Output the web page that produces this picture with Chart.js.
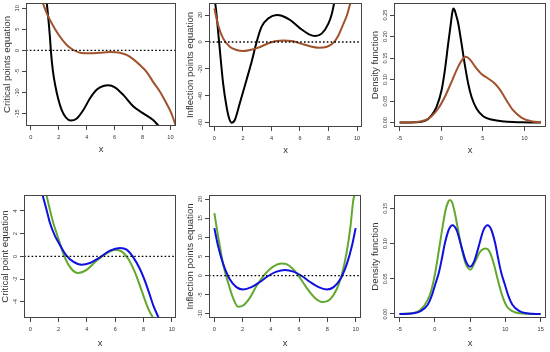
<!DOCTYPE html>
<html><head><meta charset="utf-8">
<script src="https://cdn.jsdelivr.net/npm/chart.js@4.4.0/dist/chart.umd.min.js"></script>
<style>
html,body{margin:0;padding:0;background:#fff;width:550px;height:352px;overflow:hidden}
canvas{position:absolute}
</style></head><body>
<canvas id="p1" width="183" height="176" style="left:0;top:0"></canvas>
<canvas id="p2" width="183" height="176" style="left:183px;top:0"></canvas>
<canvas id="p3" width="184" height="176" style="left:366px;top:0"></canvas>
<canvas id="p4" width="183" height="176" style="left:0;top:176px"></canvas>
<canvas id="p5" width="183" height="176" style="left:183px;top:176px"></canvas>
<canvas id="p6" width="184" height="176" style="left:366px;top:176px"></canvas>
<script>
// ---------- DATA ----------
// Panel 1: critical points equation
const p1BlackX = [1.13,1.26,1.38,1.43,1.57,1.74,1.98,2.21,2.52,2.86,3.29,3.76,4.24,4.71,5.19,5.55,6.02,6.62,7.33,8.05,8.76,9.22];
const p1BlackY = [11.6,7.2,2.5,0,-4.7,-8.25,-11.8,-14.2,-16.0,-16.7,-16.2,-14.2,-11.4,-9.4,-8.5,-8.33,-8.8,-10.6,-13.3,-15.0,-16.6,-18.2];
const p1BrownX = [0.84,1.14,1.5,2.0,2.57,3.05,3.52,4.24,4.95,5.67,6.38,6.86,7.33,7.81,8.29,8.76,9.24,9.71,10.07,10.4];
const p1BrownY = [11.4,8.8,6.4,3.65,1.27,0.08,-0.56,-0.71,-0.56,-0.4,-0.56,-1.1,-2.1,-3.5,-5.1,-7.5,-9.8,-12.6,-15.0,-18.1];
// Panel 2: inflection points equation
const p2BlackX = [0.05,0.14,0.26,0.38,0.61,0.85,1.03,1.2,1.43,1.78,2.25,2.61,2.96,3.31,3.78,4.37,4.72,5.31,6.01,6.6,7.07,7.54,8.0,8.24,8.41];
const p2BlackY = [29.5,21.2,7.7,-5.9,-30.6,-47.9,-56.5,-59.8,-57.8,-45.4,-28.1,-14.6,0,11.4,17.5,20.0,19.5,16.3,10.1,5.9,4.4,6.4,13.8,21.2,29.5];
const p2BrownX = [0,0.26,0.61,1.08,1.55,2.02,2.49,3.08,3.66,4.25,4.84,5.42,6.01,6.71,7.3,7.89,8.36,8.71,9.06,9.3,9.55];
const p2BrownY = [24.9,12.6,2.7,-3.5,-5.9,-6.7,-5.9,-4.2,-1.5,0.5,1.2,0.7,-1.0,-3.2,-4.2,-3.5,-0.5,5.2,13.8,20.0,29.5];
// Panel 3: density functions
const p3BlackX = [-5,-3.16,-1.96,-1.16,-0.56,0.04,0.44,0.84,1.16,1.32,1.46,1.6,1.76,2.04,2.44,2.84,3.24,3.64,4.24,5.04,6.04,7.64,9.64,12];
const p3BlackY = [0,0.0008,0.0039,0.017,0.0365,0.075,0.122,0.184,0.231,0.255,0.265,0.262,0.252,0.231,0.184,0.134,0.091,0.06,0.0326,0.0148,0.007,0.0023,0.0008,0];
const p3BrownX = [-5,-3.16,-1.96,-1.16,-0.36,0.44,1.24,2.04,2.64,2.96,3.44,4.04,4.84,5.64,6.44,7.04,7.84,8.64,9.64,10.84,12];
const p3BrownY = [0,0.0008,0.0054,0.0148,0.0326,0.06,0.0947,0.13,0.149,0.153,0.147,0.131,0.113,0.1025,0.091,0.077,0.052,0.0287,0.0116,0.003,0.0005];
// Panel 4: critical point equation
const p4BlueX = [0.84,1.13,1.37,1.73,1.99,2.32,2.55,3.03,3.62,4.21,4.92,5.63,6.34,6.81,7.28,7.75,8.23,8.7,9.1];
const p4BlueY = [5.5,4.18,3.0,1.82,1.24,0.5,0.06,-0.47,-0.74,-0.59,-0.09,0.5,0.74,0.59,-0.09,-1.12,-2.6,-4.35,-5.5];
const p4GreenX = [1.12,1.37,1.61,1.99,2.43,2.91,3.38,3.97,4.68,5.39,5.98,6.45,6.93,7.4,7.87,8.35,8.72];
const p4GreenY = [5.5,4.18,3.0,1.53,-0.09,-1.12,-1.47,-1.2,-0.38,0.26,0.59,0.44,-0.24,-1.41,-3.03,-4.65,-5.5];
// Panel 5: inflection points equation
const p5BlueX = [0,0.26,0.61,1.09,1.56,2.03,2.62,3.22,3.81,4.4,5.0,5.6,6.19,6.78,7.38,7.97,8.44,8.91,9.39,9.74,10];
const p5BlueY = [12.4,7.8,3.2,-0.96,-3.0,-3.6,-3.0,-1.66,-0.09,1.05,1.48,1.05,-0.09,-1.66,-3.0,-3.6,-3.0,-0.96,3.2,7.8,12.4];
const p5GreenX = [0,0.26,0.61,0.97,1.32,1.68,2.03,2.51,2.98,3.57,4.16,4.75,5.11,5.58,6.05,6.52,7.12,7.71,8.18,8.65,9.0,9.36,9.64,9.83,9.95];
const p5GreenY = [16.3,10.4,3.2,-1.8,-5.8,-8.1,-7.8,-5.8,-2.7,0.35,2.36,3.2,3.0,1.66,-0.52,-3.1,-5.8,-6.9,-6.2,-3.6,-0.1,6.0,13.0,19.6,21.5];
// Panel 6: density functions
const p6BlueX = [-5,-3,-2,-1,-0.46,0.1,0.58,1.0,1.43,2.0,2.52,3.1,3.8,4.4,5.0,5.6,6.2,6.9,7.48,8.0,8.57,9.0,9.42,9.9,10.46,11,12,13,15];
const p6BlueY = [0,0.001,0.004,0.013,0.025,0.043,0.0586,0.078,0.1,0.12,0.126,0.119,0.095,0.075,0.067,0.075,0.095,0.119,0.126,0.12,0.1,0.078,0.0586,0.043,0.025,0.013,0.004,0.001,0];
const p6GreenX = [-5,-3,-2,-1,-0.5,0,0.5,1.0,1.5,1.85,2.14,2.45,2.8,3.3,3.8,4.4,5.07,5.7,6.4,6.85,7.2,7.6,8.0,8.4,9.0,9.6,10.2,11,12,15];
const p6GreenY = [0,0.0015,0.006,0.02,0.033,0.055,0.085,0.117,0.146,0.158,0.162,0.159,0.146,0.12,0.094,0.071,0.063,0.074,0.088,0.092,0.093,0.091,0.083,0.07,0.046,0.025,0.011,0.004,0.001,0];

// Tick values and labels
const xTicks010 = [0,2,4,6,8,10];
const p3XTicks = [-5,0,5,10];
const p6XTicks = [-5,0,5,10,15];
const p1YTicks = [-15,-10,-5,0,5,10];
const p2YTicks = [-60,-40,-20,0,20];
const p3YTicks = [0,0.05,0.10,0.15,0.20,0.25];
const p3YLabels = ['0.00','0.05','0.10','0.15','0.20','0.25'];
const p4YTicks = [-4,-2,0,2,4];
const p5YTicks = [-10,-5,0,5,10,15,20];
const p6YTicks = [0,0.05,0.10,0.15];
const p6YLabels = ['0.00','0.05','0.10','0.15'];

// ---------- DRAWING ----------
const FONT = '"Liberation Sans", Arial, Helvetica, sans-serif';
const C = {black:'#000000', brown:'#A0522D', green:'#62A82E', blue:'#1010E0', axis:'#444444', text:'#333333'};

function pts(xs, ys){ return xs.map((x,i)=>({x:x, y:ys[i]})); }

function curve(xs, ys, color){
  return {data:pts(xs,ys), borderColor:color, borderWidth:2, pointRadius:0, fill:false,
          cubicInterpolationMode:'monotone', clip:0};
}
function zeroLine(xmin, xmax){
  return {data:[{x:xmin,y:0},{x:xmax,y:0}], borderColor:'#000', borderWidth:1.4, borderDash:[1.6,2.2],
          pointRadius:0, fill:false, clip:0};
}

const boxPlugin = {
  id:'rbox',
  afterDraw(chart){
    const o = chart.options.plugins.rbox;
    const {ctx, chartArea:a} = chart;
    const ys = chart.scales.y;
    ctx.save();
    ctx.strokeStyle = C.axis; ctx.lineWidth = 1;
    ctx.strokeRect(Math.round(a.left)+0.5, Math.round(a.top)+0.5, Math.round(a.right-a.left)-1, Math.round(a.bottom-a.top)-1);
    ctx.fillStyle = C.text;
    ctx.font = '5.6px ' + FONT;
    ctx.textAlign = 'center'; ctx.textBaseline = 'middle';
    o.values.forEach((v,i)=>{
      const py = ys.getPixelForValue(v);
      ctx.save(); ctx.translate(a.left-8.5, py); ctx.rotate(-Math.PI/2);
      ctx.fillText(o.labels[i], 0, 0); ctx.restore();
    });
    ctx.restore();
  }
};

function panel(id, cv, box, xr, yr, xt, yt, ylab, ytitle, datasets){
  // cv: canvas rect [x,y,w,h] in page coords, box: plot box [l,t,r,b]
  const yW = box[0]-cv[0], xH = cv[1]+cv[3]-box[3];
  const titlePadY = Math.max(0, (box[0]-19) - cv[0] - 5.7);
  const titlePadX = xH - 25.5 - 5.4 + (cv[1]===0 ? 1.5 : 0);
  new Chart(document.getElementById(id), {
    type:'line',
    data:{datasets:datasets},
    plugins:[boxPlugin],
    options:{
      responsive:false, animation:false, events:[],
      layout:{padding:{left:0, top:box[1]-cv[1], right:cv[0]+cv[2]-box[2], bottom:0}},
      plugins:{legend:{display:false}, tooltip:{enabled:false},
               rbox:{values:yt, labels:ylab}},
      scales:{
        x:{type:'linear', min:xr[0], max:xr[1],
           afterBuildTicks:s=>{ s.ticks = xt.map(v=>({value:v})); },
           afterFit:s=>{ s.height = xH; },
           grid:{drawOnChartArea:false, drawTicks:true, tickLength:4, color:C.axis, lineWidth:1},
           border:{display:false},
           ticks:{font:{size:5.6, family:FONT}, color:C.text, padding:4, maxRotation:0, autoSkip:false,
                  callback:v=>String(v)},
           title:{display:true, text:'x', font:{size:9.5, family:FONT}, color:C.text, padding:{top:0,bottom:titlePadX}}},
        y:{type:'linear', min:yr[0], max:yr[1],
           afterBuildTicks:s=>{ s.ticks = yt.map(v=>({value:v})); },
           afterFit:s=>{ s.width = yW; },
           grid:{drawOnChartArea:false, drawTicks:true, tickLength:4, color:C.axis, lineWidth:1},
           border:{display:false},
           ticks:{display:false},
           title:{display:true, text:ytitle, font:{size:9.6, family:FONT}, color:C.text, padding:{top:titlePadY,bottom:0}}}
      }
    }
  });
}

panel('p1',[0,0,183,176],[26,3,176,126],[-0.35,10.4],[-18.0,11.26],xTicks010,p1YTicks,p1YTicks.map(String),
  'Critical points equation',
  [zeroLine(-0.35,10.4), curve(p1BrownX,p1BrownY,C.brown), curve(p1BlackX,p1BlackY,C.black)]);
panel('p2',[183,0,183,176],[209,3,362,127],[-0.38,10.35],[-63,28.9],xTicks010,p2YTicks,p2YTicks.map(String),
  'Inflection points equation',
  [zeroLine(-0.38,10.35), curve(p2BrownX,p2BrownY,C.brown), curve(p2BlackX,p2BlackY,C.black)]);
panel('p3',[366,0,184,176],[394,3,546,127],[-5.68,12.6],[-0.0103,0.278],p3XTicks,p3YTicks,p3YLabels,
  'Density function',
  [curve(p3BrownX,p3BrownY,C.brown), curve(p3BlackX,p3BlackY,C.black)]);
panel('p4',[0,176,183,176],[24,195,176,318],[-0.45,10.3],[-5.44,5.41],xTicks010,p4YTicks,p4YTicks.map(String),
  'Critical point equation',
  [zeroLine(-0.45,10.3), curve(p4BlueX,p4BlueY,C.blue), curve(p4GreenX,p4GreenY,C.green)]);
panel('p5',[183,176,183,176],[209,195,361,318],[-0.38,10.38],[-11.05,21.05],xTicks010,p5YTicks,p5YTicks.map(String),
  'Inflection points equation',
  [zeroLine(-0.38,10.38), curve(p5BlueX,p5BlueY,C.blue), curve(p5GreenX,p5GreenY,C.green)]);
panel('p6',[366,176,184,176],[394,195,546,318],[-5.77,15.76],[-0.0057,0.169],p6XTicks,p6YTicks,p6YLabels,
  'Density function',
  [curve(p6BlueX,p6BlueY,C.blue), curve(p6GreenX,p6GreenY,C.green)]);
</script>
</body></html>
